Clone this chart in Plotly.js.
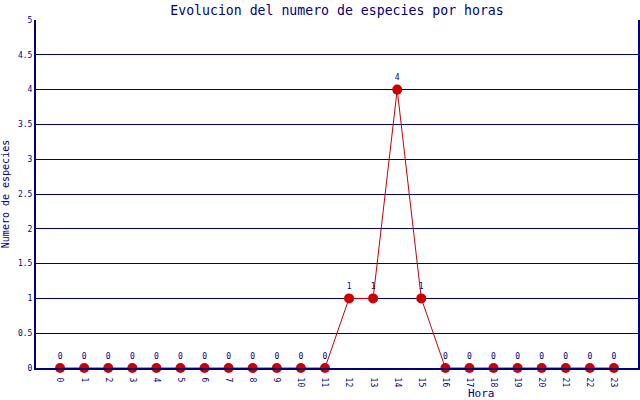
<!DOCTYPE html>
<html>
<head>
<meta charset="utf-8">
<script src="https://cdn.plot.ly/plotly-3.0.1.min.js"></script>
<style>body{margin:0;background:#fff}#plot{width:640px;height:400px}</style>
</head>
<body>
<div id="plot"></div>
<script>
// horas del dia y numero de especies observadas
var horas = ['0','1','2','3','4','5','6','7','8','9','10','11','12','13','14','15','16','17','18','19','20','21','22','23'];
var especies = [0,0,0,0,0,0,0,0,0,0,0,0,1,1,4,1,0,0,0,0,0,0,0,0];

var navy = '#000080';
var font = 'DejaVu Sans Mono, monospace';

var trace = {
    x: horas.map(Number),
    y: especies,
    mode: 'lines+markers+text',
    text: especies.map(String),
    textposition: 'top center',
    textfont: {family: font, size: 8, color: navy},
    line: {color: '#cc0000', width: 1},
    marker: {color: '#cc0000', size: 10},
    cliponaxis: false,
    hoverinfo: 'none',
    type: 'scatter'
};

var layout = {
    width: 640, height: 400,
    margin: {l: 36, r: 2, t: 20, b: 32},
    paper_bgcolor: '#fff', plot_bgcolor: '#fff',
    showlegend: false,
    title: {text: 'Evolucion del numero de especies por horas', font: {family: font, size: 13.2, color: navy},
        xref: 'paper', x: 0.5, y: 0.985, yanchor: 'top'},
    xaxis: {
        range: [-1, 24], tickvals: horas.map(Number), ticktext: horas,
        tickangle: 90, tickfont: {family: font, size: 8, color: navy},
        ticklabelstandoff: 6,
        showgrid: false, zeroline: false, showline: true, linecolor: navy, linewidth: 2,
        ticks: ''
    },
    yaxis: {
        range: [0, 5], dtick: 0.5, tickfont: {family: font, size: 8, color: navy},
        showgrid: true, gridcolor: navy, gridwidth: 1, zeroline: false,
        showline: true, linecolor: navy, linewidth: 2, mirror: true, ticks: '', ticklen: 0,
        title: {text: 'Numero de especies', font: {family: font, size: 10, color: navy}, standoff: 6}
    },
    annotations: [{
        text: 'Hora', xref: 'paper', yref: 'paper', x: 0.74, y: -0.073,
        xanchor: 'center', yanchor: 'middle', showarrow: false,
        font: {family: font, size: 11, color: navy}
    }]
};

Plotly.newPlot('plot', [trace], layout, {staticPlot: true});
</script>
</body>
</html>
